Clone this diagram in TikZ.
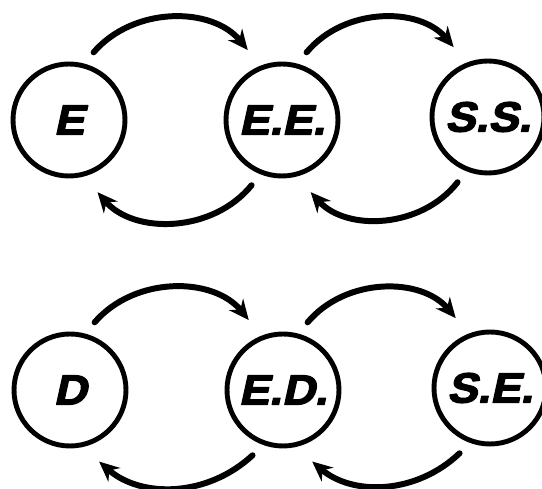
\documentclass[tikz,border=0pt]{standalone}
\usepackage{fontspec}
\setmainfont{Liberation Sans}
\newfontfamily\statefont{Liberation Sans}[BoldFont={* Bold},BoldFeatures={FakeBold=3,FakeSlant=0.22,FakeStretch=1.08}]
\usetikzlibrary{arrows.meta}
\begin{document}
\begin{tikzpicture}[>={Stealth[length=4mm,width=3.6mm]},line join=round,line cap=round,
	font=\fontsize{24}{28}\selectfont\statefont\bfseries,
	state/.style={circle,draw,line width=2.8pt,minimum size=22.4mm,inner sep=0pt,outer sep=3.2mm},
	trans/.style={->,line width=3.4pt,shorten >=1.2mm,bend left=50}]
	\useasboundingbox (0,0) rectangle (10.84,9.78);
	\begin{scope}
		\node[state] (E) at (1.38,7.38) {E};
		\node[state] (EE) at (5.64,7.38) {E.E.};
		\node[state] (SS) at (9.76,7.44) {S.S.};
		\draw[trans] (E.70) to (EE.115);
		\draw[trans] (EE.-115) to (E.-70);
		\draw[trans] (EE.70) to (SS.115);
		\draw[trans] (SS.-115) to (EE.-70);
	\end{scope}
	\begin{scope}
		\node[state] (D) at (1.40,1.98) {D};
		\node[state] (ED) at (5.66,1.98) {E.D.};
		\node[state] (SE) at (9.80,2.02) {S.E.};
		\draw[trans] (D.70) to (ED.115);
		\draw[trans,bend left=42] (ED.-115) to (D.-70);
		\draw[trans] (ED.70) to (SE.115);
		\draw[trans,bend left=42] (SE.-115) to (ED.-70);
	\end{scope}
\end{tikzpicture}
\end{document}
